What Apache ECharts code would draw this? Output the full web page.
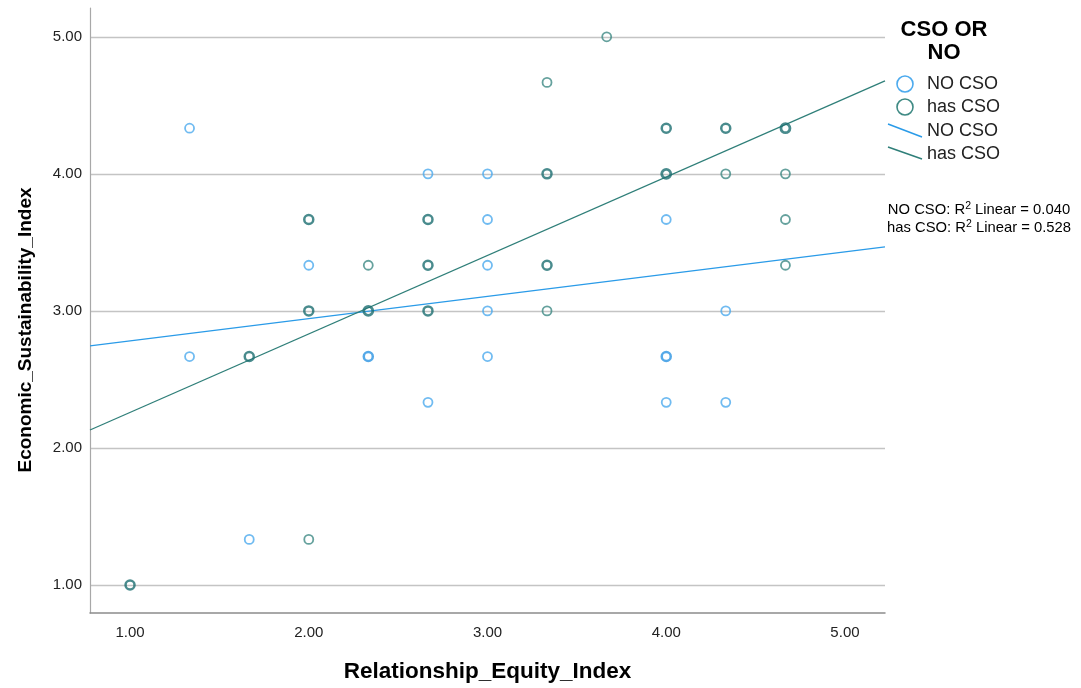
<!DOCTYPE html>
<html>
<head>
<meta charset="utf-8">
<script src="https://cdn.jsdelivr.net/npm/echarts@6/dist/echarts.min.js"></script>
<style>html,body{margin:0;padding:0;background:#fff}#c{width:1081px;height:688px}</style>
</head>
<body>
<div id="c"></div>
<script>
// Data: [Relationship_Equity_Index, Economic_Sustainability_Index, count of overlapping cases]
const noCso = [
  [1.333,4.333,1],[1.333,2.667,1],[1.667,1.333,1],[2.0,3.333,1],[2.333,2.667,2],
  [2.667,4.0,1],[2.667,2.333,1],[3.0,4.0,1],[3.0,3.667,1],[3.0,3.333,1],
  [3.0,3.0,1],[3.0,2.667,1],[4.0,3.667,1],[4.0,2.667,2],[4.0,2.333,1],
  [4.333,3.0,1],[4.333,2.333,1]
];
const hasCso = [
  [1.0,1.0,2],[1.667,2.667,2],[2.0,3.667,2],[2.0,3.0,2],[2.0,1.333,1],
  [2.333,3.333,1],[2.333,3.0,3],[2.667,3.667,2],[2.667,3.333,2],[2.667,3.0,2],
  [3.333,4.667,1],[3.333,4.0,2],[3.333,3.333,2],[3.333,3.0,1],[3.667,5.0,1],
  [4.0,4.333,2],[4.0,4.0,3],[4.333,4.333,2],[4.333,4.0,1],[4.667,4.333,3],
  [4.667,4.0,1],[4.667,3.667,1],[4.667,3.333,1]
];
// Fit lines read at the two plot edges
const fitX = [0.776, 5.224];
const noCsoFit = [2.745, 3.467];
const hasCsoFit = [2.131, 4.679];
const xTicks = [1, 2, 3, 4, 5];
const yTicks = [1, 2, 3, 4, 5];
const r2Labels = ['NO CSO', 'has CSO'];
const r2Values = ['0.040', '0.528'];

const C_NO = '#4caaee', C_NO_D = '#2b93e2';
const C_HAS = '#3f8a84', C_HAS_D = '#1c6e70';
const L_NO = '#2a9be8', L_HAS = '#2f7f79';

function pts(arr, c, cd) {
  return arr.map(p => ({
    value: [p[0], p[1]],
    itemStyle: { color: 'rgba(0,0,0,0)', borderColor: p[2] > 1 ? cd : c, borderWidth: p[2] > 2 ? 2.8 : (p[2] > 1 ? 2.5 : 1.8) }
  }));
}

const chart = echarts.init(document.getElementById('c'), null, { renderer: 'canvas' });
chart.setOption({
  animation: false,
  backgroundColor: '#fff',
  grid: { left: 90, top: 8, right: 196, bottom: 75, containLabel: false },
  xAxis: {
    type: 'value', min: fitX[0], max: fitX[1],
    name: 'Relationship_Equity_Index', nameLocation: 'middle', nameGap: 47,
    nameTextStyle: { fontFamily: 'Liberation Sans', fontWeight: 'bold', fontSize: 22.5, color: '#000' },
    axisLine: { show: true, lineStyle: { color: '#8c8c8c', width: 1.5 } },
    axisTick: { show: false, customValues: xTicks },
    axisLabel: { customValues: xTicks, formatter: v => v.toFixed(2), margin: 12, fontFamily: 'Liberation Sans', fontSize: 15, color: '#222' },
    splitLine: { show: false }
  },
  yAxis: {
    type: 'value', min: 0.796, max: 5.21,
    name: 'Economic_Sustainability_Index', nameLocation: 'middle', nameGap: 55, nameRotate: 90,
    nameTextStyle: { fontFamily: 'Liberation Sans', fontWeight: 'bold', fontSize: 19, color: '#000', padding: [0, 39, 0, 0] },
    axisLine: { show: true, lineStyle: { color: '#a8a8a8', width: 1.2 } },
    axisTick: { show: false, customValues: yTicks },
    axisLabel: { customValues: yTicks, formatter: v => v.toFixed(2), margin: 8, fontFamily: 'Liberation Sans', fontSize: 15, color: '#222' },
    splitLine: { show: true, lineStyle: { color: '#c4c4c4', width: 1.3 } }
  },
  series: [
    { name: 'NO CSO fit', type: 'line', data: [[fitX[0], noCsoFit[0]], [fitX[1], noCsoFit[1]]], symbol: 'none', lineStyle: { color: L_NO, width: 1.3 }, z: 1 },
    { name: 'has CSO fit', type: 'line', data: [[fitX[0], hasCsoFit[0]], [fitX[1], hasCsoFit[1]]], symbol: 'none', lineStyle: { color: L_HAS, width: 1.3 }, z: 1 },
    { name: 'NO CSO', type: 'scatter', symbol: 'circle', symbolSize: 9, data: pts(noCso, C_NO, C_NO_D), z: 3 },
    { name: 'has CSO', type: 'scatter', symbol: 'circle', symbolSize: 9, data: pts(hasCso, C_HAS, C_HAS_D), z: 3 }
  ],
  graphic: [
    { type: 'text', x: 944, y: 18, style: { text: 'CSO OR\nNO', fill: '#000', font: 'bold 22px "Liberation Sans"', align: 'center', lineHeight: 23 } },
    { type: 'circle', shape: { cx: 905, cy: 84, r: 8 }, style: { fill: 'none', stroke: C_NO, lineWidth: 1.6 } },
    { type: 'circle', shape: { cx: 905, cy: 107, r: 8 }, style: { fill: 'none', stroke: C_HAS, lineWidth: 1.6 } },
    { type: 'line', shape: { x1: 888, y1: 124, x2: 922, y2: 137 }, style: { stroke: L_NO, lineWidth: 1.5 } },
    { type: 'line', shape: { x1: 888, y1: 147, x2: 922, y2: 159 }, style: { stroke: L_HAS, lineWidth: 1.5 } },
    { type: 'text', x: 927, y: 84, style: { text: 'NO CSO', fill: '#222', font: '18px "Liberation Sans"', verticalAlign: 'middle' } },
    { type: 'text', x: 927, y: 107, style: { text: 'has CSO', fill: '#222', font: '18px "Liberation Sans"', verticalAlign: 'middle' } },
    { type: 'text', x: 927, y: 131, style: { text: 'NO CSO', fill: '#222', font: '18px "Liberation Sans"', verticalAlign: 'middle' } },
    { type: 'text', x: 927, y: 154, style: { text: 'has CSO', fill: '#222', font: '18px "Liberation Sans"', verticalAlign: 'middle' } },
    ...r2Labels.map((lab, i) => ({
      type: 'text', x: 979, y: 210 + i * 18,
      style: {
        text: '{n|' + lab + ': R}{s|2}{n| Linear = ' + r2Values[i] + '}',
        align: 'center', verticalAlign: 'middle',
        rich: {
          n: { fontFamily: 'Liberation Sans', fontSize: 14.8, color: '#111' },
          s: { fontFamily: 'Liberation Sans', fontSize: 10.5, color: '#111', padding: [0, 0, 7, 0] }
        }
      }
    }))
  ]
});
</script>
</body>
</html>
